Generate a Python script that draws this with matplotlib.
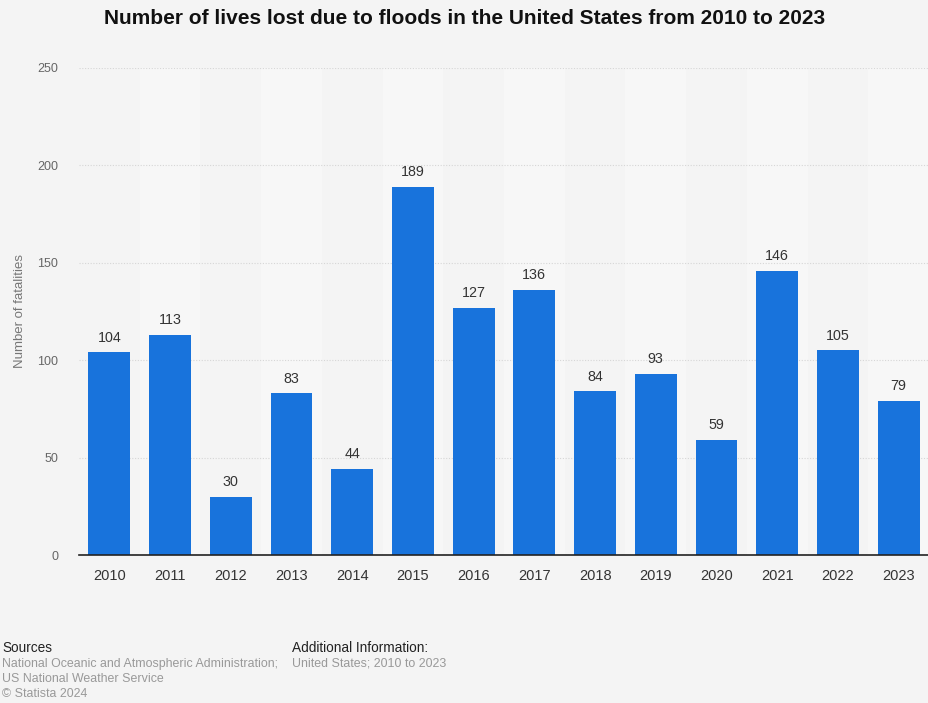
import matplotlib.pyplot as plt

plt.rcParams['font.family'] = ['Liberation Sans', 'DejaVu Sans']

# data
years = ['2010', '2011', '2012', '2013', '2014', '2015', '2016',
         '2017', '2018', '2019', '2020', '2021', '2022', '2023']
deaths = [104, 113, 30, 83, 44, 189, 127, 136, 84, 93, 59, 146, 105, 79]

bg = '#f4f4f4'
fig = plt.figure(figsize=(9.29, 7.03), dpi=100, facecolor=bg)
ax = fig.add_axes([79 / 929, 1 - 555 / 703, 850 / 929, (555 - 68) / 703])
ax.set_facecolor(bg)

x = list(range(len(years)))
# alternating column stripes
for i in x:
    if i % 2 == 1:
        ax.axvspan(i - 0.5, i + 0.5, color='#f7f7f7', zorder=0, lw=0)

bars = ax.bar(x, deaths, width=0.69, color='#1873dc', zorder=3)
for xi, v in zip(x, deaths):
    ax.text(xi, v + 4, str(v), ha='center', va='bottom', fontsize=10.3,
            color='#333333', zorder=4)

ax.set_xlim(-0.5, len(years) - 0.5)
ax.set_ylim(0, 250)
ax.set_yticks([0, 50, 100, 150, 200, 250])
ax.set_xticks(x)
ax.set_xticklabels(years)
ax.tick_params(axis='x', length=0, pad=10, labelsize=10.5, labelcolor='#333333')
ax.tick_params(axis='y', length=0, pad=15, labelsize=9, labelcolor='#666666')
ax.yaxis.grid(True, linestyle=(0, (1, 1.5)), color='#d6d6d6', lw=0.8, zorder=1)
for s in ['top', 'right', 'left']:
    ax.spines[s].set_visible(False)
ax.spines['bottom'].set_color('#222222')
ax.spines['bottom'].set_linewidth(1.2)
ax.spines['bottom'].set_zorder(5)

fig.text(20 / 929, 1 - 311 / 703, 'Number of fatalities', rotation=90,
         ha='center', va='center', fontsize=9.5, color='#777777')

fig.text(465 / 929, 1 - 18 / 703,
         'Number of lives lost due to floods in the United States from 2010 to 2023',
         ha='center', va='center', fontsize=15, fontweight='bold', color='#111111')

# footer
fig.text(2 / 929, 1 - 648 / 703, 'Sources', ha='left', va='center',
         fontsize=9.8, color='#222222')
fig.text(2 / 929, 1 - 664 / 703, 'National Oceanic and Atmospheric Administration;',
         ha='left', va='center', fontsize=8.9, color='#999999')
fig.text(2 / 929, 1 - 679 / 703, 'US National Weather Service',
         ha='left', va='center', fontsize=8.9, color='#999999')
fig.text(2 / 929, 1 - 694 / 703, '\u00a9 Statista 2024',
         ha='left', va='center', fontsize=8.9, color='#999999')
fig.text(292 / 929, 1 - 648 / 703, 'Additional Information:', ha='left', va='center',
         fontsize=9.8, color='#222222')
fig.text(292 / 929, 1 - 664 / 703, 'United States; 2010 to 2023',
         ha='left', va='center', fontsize=8.9, color='#999999')

fig.savefig('out.png', dpi=100, facecolor=bg)
